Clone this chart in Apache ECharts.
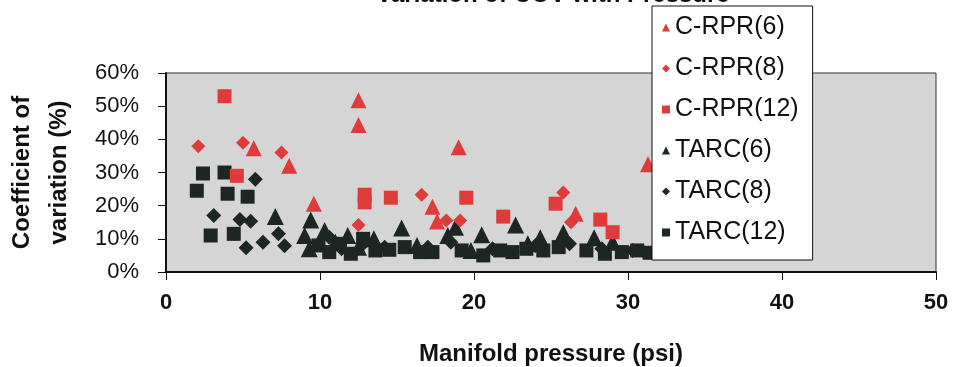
<!DOCTYPE html>
<html>
<head>
<meta charset="utf-8">
<script src="https://cdn.jsdelivr.net/npm/echarts@6/dist/echarts.min.js"></script>
<style>
  html, body { margin: 0; padding: 0; background: #fff; }
  #chart { width: 955px; height: 367px; }
</style>
</head>
<body>
<div id="chart"></div>
<script>
// [pressure (psi), coefficient of variation (%)]
const crpr6 = [[5.7, 37.3], [8.0, 32], [9.6, 20.6], [12.5, 51.8], [12.5, 44.3], [17.3, 19.7], [17.6, 15.2], [19.0, 37.6], [26.6, 17.6], [31.3, 32.5]];
const crpr8 = [[2.1, 37.9], [5.0, 39], [7.5, 36], [12.5, 14.2], [16.6, 23.3], [18.2, 15.5], [19.1, 15.5], [25.8, 24], [26.3, 15]];
const crpr12 = [[3.8, 53], [4.6, 29], [12.9, 23.3], [12.9, 21], [14.6, 22.4], [19.5, 22.4], [21.9, 16.7], [25.3, 20.6], [28.2, 15.8], [29.0, 12]];
const tarc6 = [[7.1, 16.7], [9.4, 15.7], [9.0, 11], [9.3, 7], [10.3, 12.5], [11.0, 9], [11.8, 11], [12.5, 7.5], [13.5, 10], [15.3, 13.3], [16.3, 8], [18.3, 11], [18.8, 13.5], [20.5, 11.2], [22.7, 14.2], [24.3, 10.3], [25.8, 11.8], [27.8, 10.3], [29.0, 9], [19.8, 6.5], [23.5, 8.5]];
const tarc8 = [[3.1, 17], [4.8, 15.8], [5.5, 15.3], [5.8, 28], [5.2, 7.3], [6.3, 9], [7.3, 11.5], [7.7, 7.9], [10.6, 10.5], [11.4, 7], [12.8, 8.5], [14.2, 7.5], [17.0, 7.5], [18.5, 9], [21.2, 7], [24.0, 8], [26.2, 8.5], [28.3, 7], [30.3, 6.5]];
const tarc12 = [[2.4, 29.7], [2.0, 24.5], [3.8, 30], [4.0, 23.6], [5.3, 22.7], [2.9, 11], [4.4, 11.5], [9.9, 8], [10.6, 6], [11.3, 8.5], [12.0, 5.5], [12.8, 10], [13.6, 6.5], [14.5, 6.7], [15.5, 7.5], [16.5, 6], [17.3, 6], [19.2, 6.5], [20.6, 5], [21.7, 6.5], [22.5, 6], [23.4, 7], [24.5, 6.5], [25.5, 7.5], [27.3, 6.5], [28.5, 5.5], [29.6, 6], [30.6, 6.5], [31.4, 5.8]];

const seriesNames = ['C-RPR(6)', 'C-RPR(8)', 'C-RPR(12)', 'TARC(6)', 'TARC(8)', 'TARC(12)'];

const RED = '#df3b3b';
const BLACK = '#1d2622';
const FONT = 'Liberation Sans, Arial, sans-serif';

const chart = echarts.init(document.getElementById('chart'));

function scatter(name, data, symbol, size, color, z) {
  return {
    name: name,
    type: 'scatter',
    data: data,
    symbol: symbol,
    symbolSize: size,
    z: z,
    itemStyle: { color: color, opacity: 1 },
    emphasis: { disabled: true }
  };
}

const option = {
  animation: false,
  textStyle: { fontFamily: FONT },
  title: {
    text: 'Variation of COV with Pressure',
    left: 548,
    textAlign: 'center',
    top: -22,
    textStyle: { fontSize: 24, fontWeight: 'bold', color: '#111', fontFamily: FONT }
  },
  grid: {
    left: 166,
    right: 19,
    top: 73,
    bottom: 95,
    outerBoundsMode: 'none',
    show: true,
    backgroundColor: '#d5d5d5',
    borderColor: '#333',
    borderWidth: 1
  },
  legend: {
    orient: 'vertical',
    left: 652,
    top: 6,
    data: seriesNames,
    backgroundColor: '#fff',
    borderColor: '#111',
    borderWidth: 1,
    borderRadius: 0,
    padding: [9, 14, 15, 10],
    itemGap: 16,
    itemWidth: 8,
    itemHeight: 8,
    textStyle: { fontSize: 25, color: '#111', fontFamily: FONT }
  },
  xAxis: {
    type: 'value',
    min: 0,
    max: 50,
    interval: 10,
    name: 'Manifold pressure (psi)',
    nameLocation: 'middle',
    nameGap: 70,
    nameTextStyle: { fontSize: 24, fontWeight: 'bold', color: '#111', fontFamily: FONT },
    axisLine: { show: true, lineStyle: { color: '#111', width: 2 } },
    axisTick: { show: true, length: 8, lineStyle: { color: '#111', width: 1 } },
    axisLabel: { fontSize: 22, fontWeight: 'bold', color: '#111', margin: 20, fontFamily: FONT },
    splitLine: { show: false }
  },
  yAxis: {
    type: 'value',
    min: 0,
    max: 60,
    interval: 10,
    name: 'Coefficient of\nvariation (%)',
    nameLocation: 'middle',
    nameRotate: 90,
    nameGap: 88,
    nameTextStyle: { fontSize: 24, fontWeight: 'bold', color: '#111', lineHeight: 37, fontFamily: FONT, align: 'center' },
    axisLine: { show: true, lineStyle: { color: '#111', width: 2 } },
    axisTick: { show: true, length: 8, lineStyle: { color: '#111', width: 1 } },
    axisLabel: { fontSize: 22, color: '#111', margin: 27, formatter: '{value}%', fontFamily: FONT },
    splitLine: { show: false }
  },
  series: [
    scatter('TARC(6)', tarc6, 'triangle', 17, BLACK, 2),
    scatter('TARC(8)', tarc8, 'diamond', 15, BLACK, 2),
    scatter('TARC(12)', tarc12, 'rect', 14, BLACK, 2),
    scatter('C-RPR(6)', crpr6, 'triangle', 16, RED, 3),
    scatter('C-RPR(8)', crpr8, 'diamond', 14, RED, 3),
    scatter('C-RPR(12)', crpr12, 'rect', 14, RED, 3)
  ]
};

chart.setOption(option);
</script>
</body>
</html>
